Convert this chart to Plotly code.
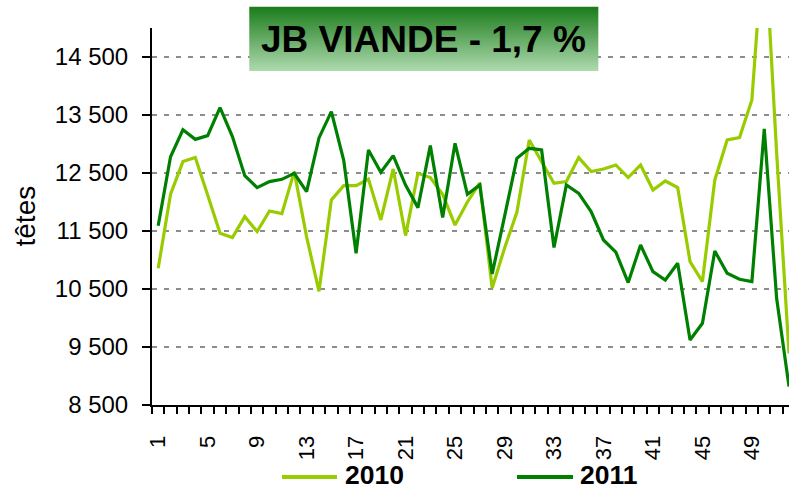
import plotly.graph_objects as go

weeks = list(range(1, 53))

values_2010 = [10857, 12133, 12697, 12766, 12121, 11461, 11386, 11748, 11490, 11845,
               11800, 12524, 11400, 10460, 12035, 12283, 12283, 12397, 11690, 12569,
               11421, 12495, 12421, 12133, 11603, 12000, 12330, 10515, 11202, 11822,
               13069, 12700, 12322, 12352, 12766, 12524, 12569, 12638, 12421, 12638,
               12207, 12362, 12248, 10972, 10628, 12379, 13069, 13110, 13759, 16700,
               12850, 9390]

values_2011 = [11590, 12780, 13245, 13080, 13145, 13628, 13128, 12455, 12248, 12352,
               12391, 12495, 12179, 13105, 13559, 12720, 11116, 12897, 12512, 12800,
               12293, 11903, 12972, 11731, 13012, 12133, 12293, 10760, 11748, 12753,
               12926, 12897, 11215, 12293, 12150, 11834, 11345, 11135, 10610, 11259,
               10800, 10655, 10943, 9621, 9909, 11155, 10771, 10667, 10628, 13260,
               10340, 8818]

series_names = ["2010", "2011"]
x_tick_vals = list(range(1, 53, 4))
x_tick_text = [str(v) for v in x_tick_vals]
y_tick_vals = [8500, 9500, 10500, 11500, 12500, 13500, 14500]
y_tick_text = ["8 500", "9 500", "10 500", "11 500", "12 500", "13 500", "14 500"]
title_text = "JB VIANDE - 1,7 %"
y_title = "têtes"

C2010 = "#99cc00"
C2011 = "#008000"
FONT = "Liberation Sans, Arial, sans-serif"

W, H = 789, 490
L, R, T, B = 152, 0, 28, 85
PW, PH = W - L - R, H - T - B


def xp(px):
    return (px - L) / PW


def yp(py):
    return (H - B - py) / PH


fig = go.Figure()
fig.add_trace(go.Scatter(x=weeks, y=values_2010, mode="lines", name=series_names[0],
                         line=dict(color=C2010, width=3.2)))
fig.add_trace(go.Scatter(x=weeks, y=values_2011, mode="lines", name=series_names[1],
                         line=dict(color=C2011, width=3.2)))

shapes = []
# gradient title box
top, bot = 6.7, 70.7
n = 32
c0 = (29, 125, 29)
c1 = (172, 216, 172)
for k in range(n):
    f = k / (n - 1)
    col = "rgb(%d,%d,%d)" % tuple(round(c0[j] + (c1[j] - c0[j]) * f) for j in range(3))
    y0 = top + (bot - top) * k / n
    y1 = top + (bot - top) * (k + 1) / n
    shapes.append(dict(type="rect", xref="paper", yref="paper",
                       x0=xp(249.3), x1=xp(598.3), y0=yp(y1 + 0.3), y1=yp(y0),
                       fillcolor=col, line=dict(width=0), layer="above"))
# legend lines
shapes.append(dict(type="line", xref="paper", yref="paper", x0=xp(282), x1=xp(337),
                   y0=yp(477), y1=yp(477), line=dict(color=C2010, width=4)))
shapes.append(dict(type="line", xref="paper", yref="paper", x0=xp(517), x1=xp(573),
                   y0=yp(477), y1=yp(477), line=dict(color=C2011, width=4)))

annotations = [
    dict(text="<b>%s</b>" % title_text, xref="paper", yref="paper", x=xp(423), y=yp(39.5),
         xanchor="center", yanchor="middle", showarrow=False,
         font=dict(family=FONT, size=37, color="black")),
    dict(text="<b>%s</b>" % series_names[0], xref="paper", yref="paper", x=xp(343), y=yp(475.5),
         xanchor="left", yanchor="middle", showarrow=False,
         font=dict(family=FONT, size=26.5, color="black")),
    dict(text="<b>%s</b>" % series_names[1], xref="paper", yref="paper", x=xp(578), y=yp(475.5),
         xanchor="left", yanchor="middle", showarrow=False,
         font=dict(family=FONT, size=26.5, color="black")),
    dict(text=y_title, xref="paper", yref="paper", x=xp(25), y=yp(216.5),
         xanchor="center", yanchor="middle", textangle=-90, showarrow=False,
         font=dict(family=FONT, size=28, color="black")),
]

fig.update_layout(
    width=W, height=H,
    margin=dict(l=L, r=R, t=T, b=B, pad=0, autoexpand=False),
    paper_bgcolor="white", plot_bgcolor="white",
    showlegend=False,
    font=dict(family=FONT, color="black"),
    shapes=shapes, annotations=annotations,
    xaxis=dict(range=[0.5, 52], showgrid=False, zeroline=False, automargin=False,
               showline=True, linecolor="black", linewidth=2,
               tickmode="array", tickvals=x_tick_vals, ticktext=x_tick_text,
               tickangle=-90, ticks="outside", ticklen=7, tickcolor="rgba(0,0,0,0)",
               ticklabelstandoff=13,
               tickfont=dict(family=FONT, size=22, color="black"),
               minor=dict(tickmode="linear", tick0=0.5, dtick=1, ticks="outside",
                          ticklen=7, tickwidth=1.5, tickcolor="black", showgrid=False)),
    yaxis=dict(range=[8500, 15000], showgrid=True, gridcolor="#8c8c8c", gridwidth=2,
               griddash="5px,7px", zeroline=False, automargin=False,
               showline=True, linecolor="black", linewidth=2,
               tickmode="array", tickvals=y_tick_vals, ticktext=y_tick_text,
               ticks="outside", ticklen=8, tickwidth=1.5, tickcolor="black",
               ticklabelstandoff=9,
               tickfont=dict(family=FONT, size=24, color="black")),
)

fig.write_html("out.html", config={"displayModeBar": False},
               post_script="document.body.style.margin='0px';document.body.style.overflow='hidden';")
